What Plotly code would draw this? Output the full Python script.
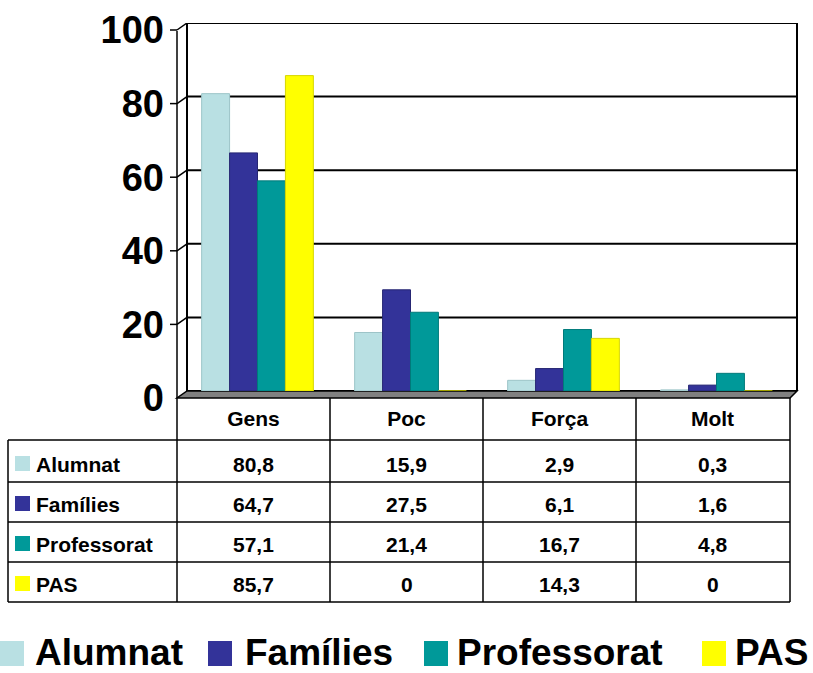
import plotly.graph_objects as go

W, H = 813, 673

categories = ["Gens", "Poc", "Força", "Molt"]
series_names = ["Alumnat", "Famílies", "Professorat", "PAS"]
alumnat = [80.8, 15.9, 2.9, 0.3]
families = [64.7, 27.5, 6.1, 1.6]
professorat = [57.1, 21.4, 16.7, 4.8]
pas = [85.7, 0, 14.3, 0]
table_labels = [["80,8", "15,9", "2,9", "0,3"],
                ["64,7", "27,5", "6,1", "1,6"],
                ["57,1", "21,4", "16,7", "4,8"],
                ["85,7", "0", "14,3", "0"]]
y_ticks = [0, 20, 40, 60, 80, 100]

colors = ["#B9E0E3", "#333399", "#009999", "#FFFF00"]
edge_colors = ["#9CC4C8", "#262673", "#007A7A", "#D6D600"]

FONT = "Liberation Sans, Arial, sans-serif"


def X(px):
    return px / W


def Y(py):
    return 1 - py / H


fig = go.Figure()
for name, vals, c, ec in zip(series_names, [alumnat, families, professorat, pas], colors, edge_colors):
    fig.add_trace(go.Bar(
        x=categories, y=vals, name=name,
        marker=dict(color=c, line=dict(color=ec, width=1)),
        showlegend=False,
    ))

shapes = []
line_k = dict(color="black", width=2)

# floor
shapes.append(dict(type="path", xref="paper", yref="paper", layer="below",
                   path=f"M {X(177)},{Y(398)} L {X(790)},{Y(398)} L {X(797)},{Y(391)} L {X(187)},{Y(391)} Z",
                   fillcolor="#808080", line=dict(color="black", width=1.5)))
# gridlines on back wall, connectors, ticks
for v in y_ticks:
    shapes.append(dict(type="line", xref="paper", yref="y", layer="below",
                       x0=X(187), x1=X(797), y0=v, y1=v, line=line_k))
    shapes.append(dict(type="line", xref="paper", yref="y", ysizemode="pixel", yanchor=v,
                       x0=X(177), x1=X(187), y0=-7, y1=0, line=dict(color="black", width=1.5)))
    shapes.append(dict(type="line", xref="paper", yref="y", ysizemode="pixel", yanchor=v,
                       x0=X(170), x1=X(177), y0=-7, y1=-7, line=dict(color="black", width=1.5)))
# back left line and right wall line
shapes.append(dict(type="line", xref="paper", yref="y", layer="below",
                   x0=X(187), x1=X(187), y0=0, y1=100, line=line_k))
shapes.append(dict(type="line", xref="paper", yref="y", layer="below",
                   x0=X(797), x1=X(797), y0=0, y1=100, line=line_k))
# front left line
shapes.append(dict(type="line", xref="paper", yref="paper",
                   x0=X(177), x1=X(177), y0=Y(31), y1=Y(602), line=dict(color="black", width=1.5)))

# table grid
col_x = [177, 330, 483, 636, 790]
row_y = [440, 482, 522, 562, 602]
for cx in col_x[1:]:
    shapes.append(dict(type="line", xref="paper", yref="paper",
                       x0=X(cx), x1=X(cx), y0=Y(398), y1=Y(602), line=dict(color="black", width=1.5)))
shapes.append(dict(type="line", xref="paper", yref="paper",
                   x0=X(8), x1=X(8), y0=Y(440), y1=Y(602), line=dict(color="black", width=1.5)))
for ry in row_y:
    shapes.append(dict(type="line", xref="paper", yref="paper",
                       x0=X(8), x1=X(790), y0=Y(ry), y1=Y(ry), line=dict(color="black", width=1.5)))

annotations = []
row_centers = [464, 504, 544, 584]
for i, (name, c) in enumerate(zip(series_names, colors)):
    cy = row_centers[i]
    shapes.append(dict(type="rect", xref="paper", yref="paper",
                       x0=X(15), x1=X(30), y0=Y(cy - 8), y1=Y(cy + 7),
                       fillcolor=c, line=dict(width=0)))
    annotations.append(dict(text=name, xref="paper", yref="paper", x=X(34), y=Y(cy),
                            xanchor="left", yanchor="middle", showarrow=False,
                            font=dict(family=FONT, size=21, color="black", weight="bold")))
    for j, cat in enumerate(categories):
        annotations.append(dict(text=table_labels[i][j], xref="x", yref="paper", x=cat, y=Y(cy),
                                xshift=-4, xanchor="center", yanchor="middle", showarrow=False,
                                font=dict(family=FONT, size=21, color="black", weight="bold")))

# bottom legend
legend_sq = [0, 208, 424, 702]
legend_tx = [33, 243, 455, 733]
for name, c, sx, tx in zip(series_names, colors, legend_sq, legend_tx):
    shapes.append(dict(type="rect", xref="paper", yref="paper",
                       x0=X(sx), x1=X(sx + 24), y0=Y(641), y1=Y(666),
                       fillcolor=c, line=dict(width=0)))
    annotations.append(dict(text=name, xref="paper", yref="paper", x=X(tx), y=Y(652),
                            xanchor="left", yanchor="middle", showarrow=False,
                            font=dict(family=FONT, size=37, color="black", weight="bold")))

fig.update_layout(
    width=W, height=H, autosize=False,
    margin=dict(l=0, r=0, t=0, b=0, pad=0),
    paper_bgcolor="white", plot_bgcolor="white",
    barmode="group", bargap=0.27, bargroupgap=0,
    shapes=shapes, annotations=annotations,
    showlegend=False,
    xaxis=dict(domain=[X(181), X(793)], range=[-0.5, 3.5], showgrid=False, showline=False,
               zeroline=False, ticks="", ticklabelstandoff=13, ticklabelshift=-4, automargin=False,
               tickfont=dict(family=FONT, size=21, color="black", weight="bold")),
    yaxis=dict(domain=[Y(391), Y(23)], range=[0, 100], showgrid=False, showline=False,
               zeroline=False, ticks="", tickvals=y_ticks, ticklabelstandoff=16, ticklabelshift=7,
               automargin=False,
               tickfont=dict(family=FONT, size=38, color="black", weight="bold")),
)

fig.write_html("out.html", config={"displayModeBar": False},
               post_script="document.body.style.margin='0';document.body.style.overflow='hidden';")
